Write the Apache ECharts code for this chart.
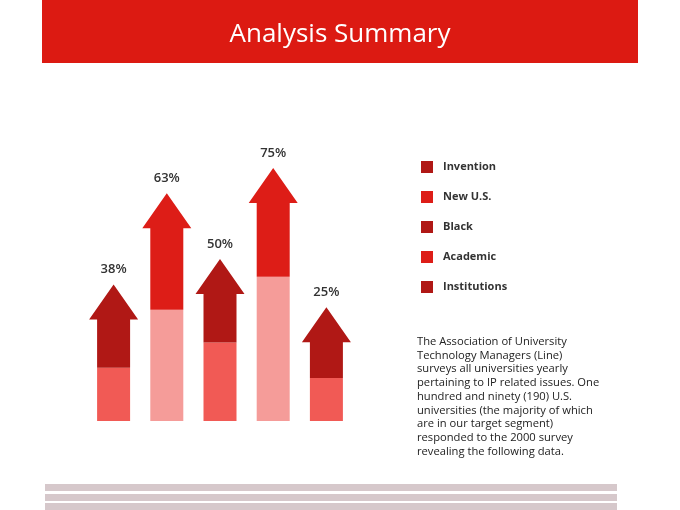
<!DOCTYPE html>
<html>
<head>
<meta charset="utf-8">
<title>Analysis Summary</title>
<script src="https://cdn.jsdelivr.net/npm/echarts@6/dist/echarts.min.js"></script>
<style>
  html, body { margin: 0; padding: 0; background: #fff; }
  #main { width: 680px; height: 510px; }
</style>
</head>
<body>
<div id="main"></div>
<script>
// legend / category names, one arrow per entry
var categories = ['Invention', 'New U.S.', 'Black', 'Academic', 'Institutions'];
// label printed above each arrow (%)
var percents = [38, 63, 50, 75, 25];
// height of the arrow tip (axis units)
var arrowTop = [54, 90, 64, 100, 45];
// where the light lower block ends and the coloured upper part begins
var splitLevel = [21, 44, 31, 57, 17];

var topColors = ['#b01815', '#dd1d17', '#b01815', '#dd1d17', '#b01815'];
var lowColors = ['#f15a55', '#f59c99', '#f15a55', '#f59c99', '#f15a55'];

var chart = echarts.init(document.getElementById('main'));

function arrowItem(params, api) {
    var x = api.value(0);
    var base = api.coord([x, 0]);
    var mid = api.coord([x, api.value(1)]);
    var tip = api.coord([x, api.value(2)]);
    var cx = base[0];
    var bw = 16.5, hw = 24.5, hh = 35;
    var idx = params.seriesIndex;
    return {
        type: 'group',
        children: [
            {
                type: 'rect',
                shape: { x: cx - bw, y: mid[1], width: bw * 2, height: base[1] - mid[1] },
                style: { fill: lowColors[idx] }
            },
            {
                type: 'polygon',
                shape: {
                    points: [
                        [cx - bw, mid[1]], [cx - bw, tip[1] + hh], [cx - hw, tip[1] + hh],
                        [cx, tip[1]],
                        [cx + hw, tip[1] + hh], [cx + bw, tip[1] + hh], [cx + bw, mid[1]]
                    ]
                },
                style: { fill: topColors[idx] }
            },
            {
                type: 'text',
                x: cx,
                y: tip[1] - 15,
                style: {
                    text: api.value(3) + '%',
                    fill: '#333',
                    font: '600 13px "Open Sans"',
                    align: 'center',
                    verticalAlign: 'middle'
                }
            }
        ]
    };
}

var series = categories.map(function (name, i) {
    return {
        name: name,
        type: 'custom',
        color: topColors[i],
        renderItem: arrowItem,
        encode: { x: 0, y: 2 },
        data: [[i, splitLevel[i], arrowTop[i], percents[i]]]
    };
});

var paragraph = [
    'The Association of University',
    'Technology Managers (Line)',
    'surveys all universities yearly',
    'pertaining to IP related issues. One',
    'hundred and ninety (190) U.S.',
    'universities (the majority of which',
    'are in our target segment)',
    'responded to the 2000 survey',
    'revealing the following data.'
].join('\n');

var option = {
    backgroundColor: '#fff',
    animation: false,
    title: {
        text: 'Analysis Summary',
        left: 'center',
        top: 17,
        textStyle: { color: '#fff', fontSize: 26, fontWeight: 'normal', fontFamily: 'Open Sans' }
    },
    legend: {
        orient: 'vertical',
        left: 421,
        top: 161,
        padding: 0,
        itemWidth: 12,
        itemHeight: 12,
        itemGap: 18,
        icon: 'rect',
        selectedMode: false,
        data: categories,
        textStyle: { color: '#333', fontSize: 11, fontWeight: 'bold', fontFamily: 'Open Sans', padding: [0, 0, 0, 5] }
    },
    grid: { left: 87, right: 327, top: 168, bottom: 89 },
    xAxis: { type: 'category', data: categories, show: false },
    yAxis: { type: 'value', min: 0, max: 100, show: false },
    graphic: [
        { type: 'rect', z: -1, shape: { x: 42, y: 0, width: 596, height: 63 }, style: { fill: '#dc1a12' } },
        {
            type: 'text', left: 417, top: 335,
            style: { text: paragraph, fill: '#222', font: '11.2px "Open Sans"', lineHeight: 13.7 }
        },
        { type: 'rect', shape: { x: 45, y: 484, width: 572, height: 7 }, style: { fill: '#d6c8cb' } },
        { type: 'rect', shape: { x: 45, y: 494, width: 572, height: 7 }, style: { fill: '#d6c8cb' } },
        { type: 'rect', shape: { x: 45, y: 503, width: 572, height: 7 }, style: { fill: '#d6c8cb' } }
    ],
    series: series
};

chart.setOption(option);
</script>
</body>
</html>
